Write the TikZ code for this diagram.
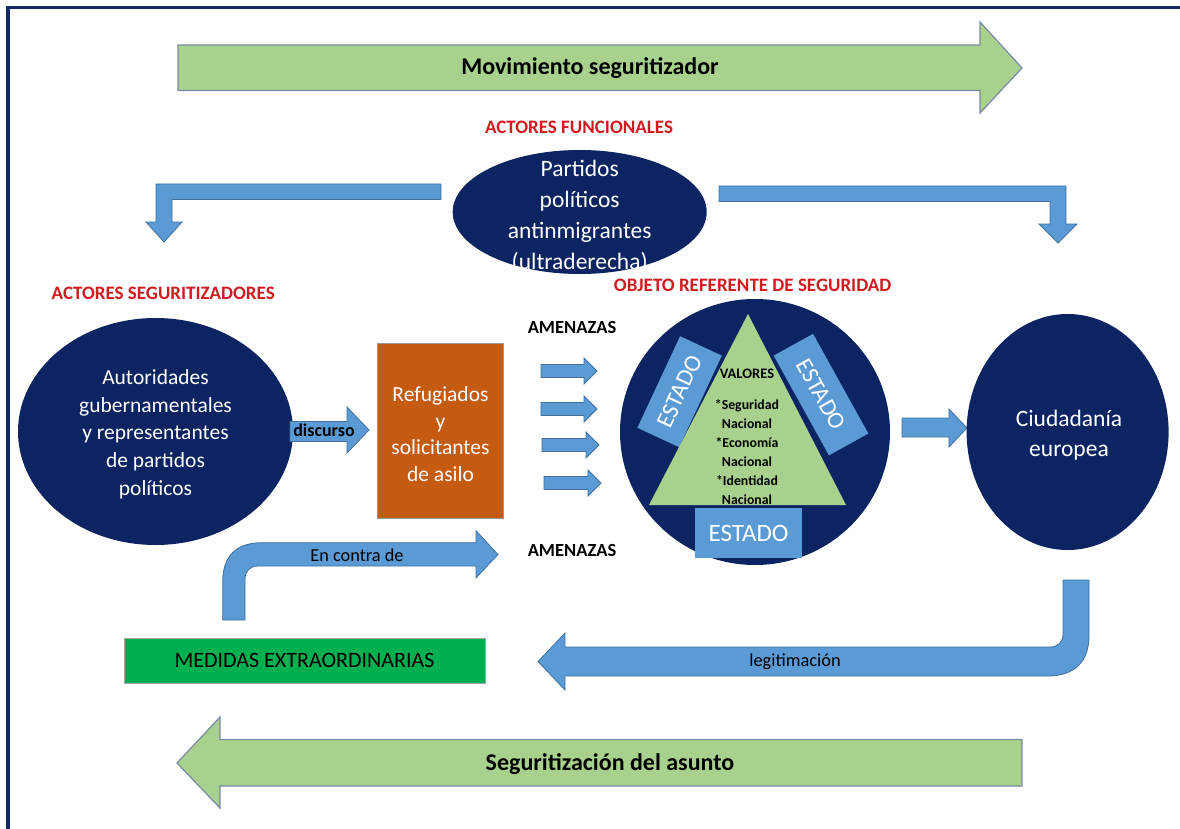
\documentclass[tikz,border=0pt]{standalone}
\usepackage{fontspec}
\setmainfont{Carlito}
\usetikzlibrary{shapes.geometric}
\definecolor{navy}{RGB}{13,36,99}
\definecolor{framec}{RGB}{22,42,100}
\definecolor{lblue}{RGB}{91,155,213}
\definecolor{bedge}{RGB}{65,113,156}
\definecolor{lgreen}{RGB}{169,209,142}
\definecolor{gedge}{RGB}{120,138,165}
\definecolor{dgreen}{RGB}{0,176,80}
\definecolor{orng}{RGB}{197,90,17}
\definecolor{redt}{RGB}{208,28,32}
\newcommand\fs[2]{\fontsize{#1}{#2}\selectfont}
\begin{document}
\begin{tikzpicture}[x=1pt,y=-1pt,
  garrow/.style={fill=lgreen, draw=gedge, line width=1.2pt},
  barrow/.style={fill=lblue, draw=bedge, line width=0.8pt},
  redlbl/.style={text=redt, font=\bfseries\fs{19}{22}, inner sep=0},
  blob/.style={ellipse, fill=navy, inner sep=0},
  wtxt/.style={text=white, align=center, inner sep=0},
  estado/.style={fill=lblue, text=white, inner sep=0},
  lbl/.style={text=black, inner sep=0}]
\useasboundingbox (0,0) rectangle (1180,829);
\fill[white] (0,0) rectangle (1180,829);
% frame
\draw[framec, line width=3.5pt] (8,835) -- (8,7.5) -- (1185,7.5);

% top arrow
\draw[garrow] (178,45) -- (980,45) -- (980,22) -- (1022,68) -- (980,113) -- (980,90.5) -- (178,90.5) -- cycle;
\node[lbl, font=\bfseries\fs{24}{28}] (mov) at (590,68) {Movimiento seguritizador};

% functional actors
\node[redlbl] (actf) at (579,127) {ACTORES FUNCIONALES};
\node[blob, minimum width=254, minimum height=124] (part) at (579.7,212) {};
\node[wtxt, font=\fs{23.5}{31}] (partT) at (579.7,216) {Partidos\\políticos\\antinmigrantes\\(ultraderecha)};

% bent arrows from functional actors
\draw[barrow] (441,184) -- (156,184) -- (156,222) -- (146,222) -- (164,242) -- (182,222) -- (172,222) -- (172,199.5) -- (441,199.5) -- cycle;
\draw[barrow] (719,186) -- (1066,186) -- (1066,224) -- (1077,224) -- (1058,243) -- (1039,224) -- (1050,224) -- (1050,201.5) -- (719,201.5) -- cycle;

% labels
\node[redlbl, anchor=west] (acts) at (51.5,293) {ACTORES SEGURITIZADORES};
\node[redlbl] (obj) at (752.6,285) {OBJETO REFERENTE DE SEGURIDAD};
\node[lbl, font=\bfseries\fs{18.5}{22}] (am1) at (572,327) {AMENAZAS};
\node[lbl, font=\bfseries\fs{18.5}{22}] (am2) at (572,550) {AMENAZAS};

% securitizing actors
\node[blob, minimum width=275, minimum height=227] (aut) at (155.5,431.5) {};
\node[wtxt, font=\fs{21.5}{27.7}] (autT) at (155.5,434) {Autoridades\\gubernamentales\\y representantes\\de partidos\\políticos};

% discurso arrow
\draw[barrow] (290,421.5) -- (347,421.5) -- (347,407) -- (369,430) -- (347,453) -- (347,441.5) -- (290,441.5) -- cycle;
\node[lbl, font=\bfseries\fs{18}{22}] (disc) at (324,430) {discurso};

% refugees
\node[fill=orng, draw=gray!80, line width=0.8pt, minimum width=126, minimum height=175, inner sep=0] (ref) at (440.5,430.5) {};
\node[wtxt, font=\fs{21.5}{26.5}] (refT) at (440.5,434) {Refugiados\\y\\solicitantes\\de asilo};

% threat arrows
\foreach \xa/\xt/\yc in {541/597/371, 541/597/409, 542/599/445, 544/601/483}{
  \pgfmathsetmacro\xb{\xt-13}
  \draw[barrow] (\xa,\yc-6.5) -- (\xb,\yc-6.5) -- (\xb,\yc-13) -- (\xt,\yc) -- (\xb,\yc+13) -- (\xb,\yc+6.5) -- (\xa,\yc+6.5) -- cycle;
}

% referent object
\node[blob, minimum width=270, minimum height=266] (refobj) at (755,432) {};
\node[estado, minimum width=101, minimum height=46, rotate=65, font=\fs{24}{28}] (estL) at (679.6,391.7) {ESTADO};
\node[estado, minimum width=114, minimum height=45, rotate=-61, font=\fs{24}{28}] (estR) at (821,394.6) {ESTADO};
\fill[lgreen] (748,314) -- (846,505) -- (649,505) -- cycle;
\node[estado, minimum width=107, minimum height=50, font=\fs{25}{28}] (estB) at (748.5,533) {ESTADO};
\node[lbl, font=\bfseries\fs{14.5}{18}] (valH) at (747,374) {VALORES};
\node[lbl, align=center, font=\bfseries\fs{13.8}{19}] (valT) at (747,452) {*Seguridad\\Nacional\\*Economía\\Nacional\\*Identidad\\Nacional};

% arrow to citizens
\draw[barrow] (902,418) -- (949,418) -- (949,409) -- (967,428) -- (949,447) -- (949,437) -- (902,437) -- cycle;

% citizens
\node[blob, minimum width=202, minimum height=236] (ciu) at (1067.6,432) {};
\node[wtxt, font=\fs{23.5}{30}] (ciuT) at (1069,435) {Ciudadanía\\europea};

% en contra de
\draw[barrow] (222.7,620) -- (222.7,582) .. controls (222.7,556) and (236,542.7) .. (262,542.7) -- (476,542.7) -- (476,530.7) -- (498,554.5) -- (476,578) -- (476,566) -- (258,566) .. controls (250,566) and (245,571) .. (245,579) -- (245,620) -- cycle;
\node[lbl, font=\fs{18.3}{22}] (contra) at (357,555) {En contra de};

% medidas
\node[fill=dgreen, draw=gray!70, line width=0.8pt, minimum width=361, minimum height=45, inner sep=0, font=\fs{22}{26}] (med) at (304.5,660.5) {MEDIDAS EXTRAORDINARIAS};

% legitimacion
\draw[barrow] (1063,580) -- (1089,580) -- (1089,636) .. controls (1089,661) and (1075,676) .. (1048,676) -- (565,676) -- (565,690) -- (538,661.5) -- (565,633) -- (565,647) -- (1050,647) .. controls (1058,647) and (1063,642) .. (1063,634) -- cycle;
\node[lbl, font=\fs{18.4}{22}] (leg) at (795,662) {legitimación};

% bottom arrow
\draw[garrow] (1022,739.5) -- (220,739.5) -- (220,717) -- (177,763) -- (220,808) -- (220,786) -- (1022,786) -- cycle;
\node[lbl, font=\bfseries\fs{24}{28}] (seg) at (610,764) {Seguritización del asunto};
\end{tikzpicture}
\end{document}
